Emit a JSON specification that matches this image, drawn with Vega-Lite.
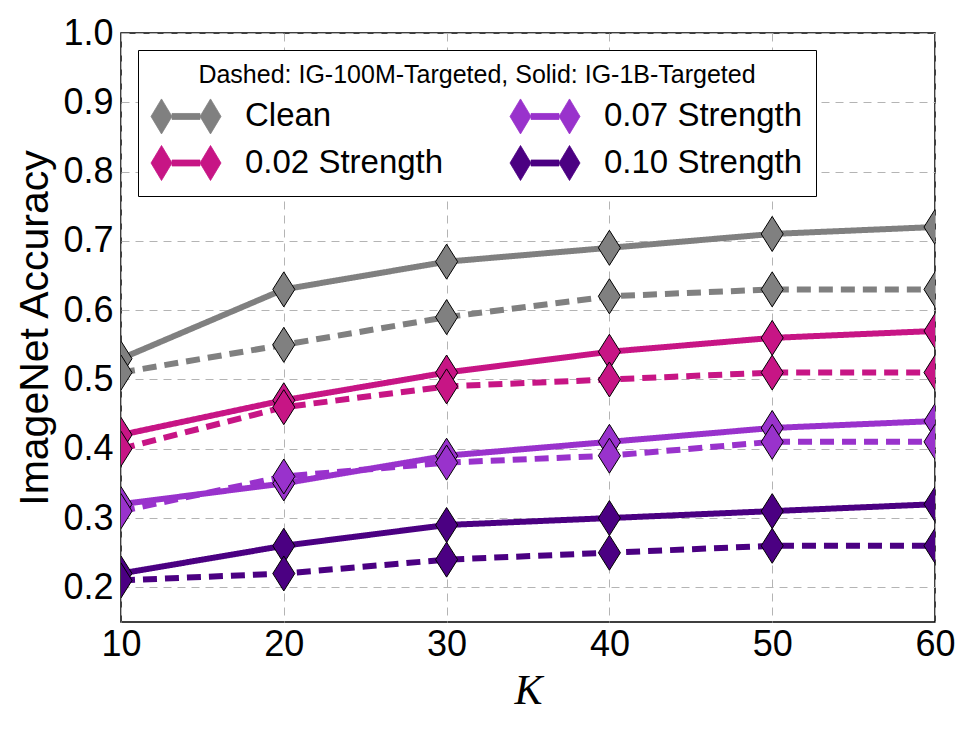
{
  "$schema": "https://vega.github.io/schema/vega-lite/v6.json",
  "width": 814,
  "height": 589,
  "autosize": {"type": "none"},
  "padding": {"left": 121, "top": 33, "right": 35, "bottom": 107},
  "background": "white",
  "config": {
    "font": "Liberation Sans",
    "view": {"stroke": "black", "strokeWidth": 1.5},
    "axis": {
      "domain": false,
      "ticks": false,
      "grid": true,
      "gridColor": "#b4b4b4",
      "gridDash": [8, 6],
      "gridWidth": 1,
      "labelFont": "Liberation Sans",
      "labelFontSize": 36,
      "labelColor": "black",
      "titleColor": "black",
      "titleFontWeight": "normal"
    }
  },
  "data": {
    "values": [
      {"K": 10, "acc": 0.53, "series": "Clean", "model": "IG-1B-Targeted"},
      {"K": 20, "acc": 0.63, "series": "Clean", "model": "IG-1B-Targeted"},
      {"K": 30, "acc": 0.67, "series": "Clean", "model": "IG-1B-Targeted"},
      {"K": 40, "acc": 0.69, "series": "Clean", "model": "IG-1B-Targeted"},
      {"K": 50, "acc": 0.71, "series": "Clean", "model": "IG-1B-Targeted"},
      {"K": 60, "acc": 0.72, "series": "Clean", "model": "IG-1B-Targeted"},
      {"K": 10, "acc": 0.51, "series": "Clean", "model": "IG-100M-Targeted"},
      {"K": 20, "acc": 0.55, "series": "Clean", "model": "IG-100M-Targeted"},
      {"K": 30, "acc": 0.59, "series": "Clean", "model": "IG-100M-Targeted"},
      {"K": 40, "acc": 0.62, "series": "Clean", "model": "IG-100M-Targeted"},
      {"K": 50, "acc": 0.63, "series": "Clean", "model": "IG-100M-Targeted"},
      {"K": 60, "acc": 0.63, "series": "Clean", "model": "IG-100M-Targeted"},
      {"K": 10, "acc": 0.42, "series": "0.02 Strength", "model": "IG-1B-Targeted"},
      {"K": 20, "acc": 0.47, "series": "0.02 Strength", "model": "IG-1B-Targeted"},
      {"K": 30, "acc": 0.51, "series": "0.02 Strength", "model": "IG-1B-Targeted"},
      {"K": 40, "acc": 0.54, "series": "0.02 Strength", "model": "IG-1B-Targeted"},
      {"K": 50, "acc": 0.56, "series": "0.02 Strength", "model": "IG-1B-Targeted"},
      {"K": 60, "acc": 0.57, "series": "0.02 Strength", "model": "IG-1B-Targeted"},
      {"K": 10, "acc": 0.40, "series": "0.02 Strength", "model": "IG-100M-Targeted"},
      {"K": 20, "acc": 0.46, "series": "0.02 Strength", "model": "IG-100M-Targeted"},
      {"K": 30, "acc": 0.49, "series": "0.02 Strength", "model": "IG-100M-Targeted"},
      {"K": 40, "acc": 0.50, "series": "0.02 Strength", "model": "IG-100M-Targeted"},
      {"K": 50, "acc": 0.51, "series": "0.02 Strength", "model": "IG-100M-Targeted"},
      {"K": 60, "acc": 0.51, "series": "0.02 Strength", "model": "IG-100M-Targeted"},
      {"K": 10, "acc": 0.32, "series": "0.07 Strength", "model": "IG-1B-Targeted"},
      {"K": 20, "acc": 0.35, "series": "0.07 Strength", "model": "IG-1B-Targeted"},
      {"K": 30, "acc": 0.39, "series": "0.07 Strength", "model": "IG-1B-Targeted"},
      {"K": 40, "acc": 0.41, "series": "0.07 Strength", "model": "IG-1B-Targeted"},
      {"K": 50, "acc": 0.43, "series": "0.07 Strength", "model": "IG-1B-Targeted"},
      {"K": 60, "acc": 0.44, "series": "0.07 Strength", "model": "IG-1B-Targeted"},
      {"K": 10, "acc": 0.31, "series": "0.07 Strength", "model": "IG-100M-Targeted"},
      {"K": 20, "acc": 0.36, "series": "0.07 Strength", "model": "IG-100M-Targeted"},
      {"K": 30, "acc": 0.38, "series": "0.07 Strength", "model": "IG-100M-Targeted"},
      {"K": 40, "acc": 0.39, "series": "0.07 Strength", "model": "IG-100M-Targeted"},
      {"K": 50, "acc": 0.41, "series": "0.07 Strength", "model": "IG-100M-Targeted"},
      {"K": 60, "acc": 0.41, "series": "0.07 Strength", "model": "IG-100M-Targeted"},
      {"K": 10, "acc": 0.22, "series": "0.10 Strength", "model": "IG-1B-Targeted"},
      {"K": 20, "acc": 0.26, "series": "0.10 Strength", "model": "IG-1B-Targeted"},
      {"K": 30, "acc": 0.29, "series": "0.10 Strength", "model": "IG-1B-Targeted"},
      {"K": 40, "acc": 0.30, "series": "0.10 Strength", "model": "IG-1B-Targeted"},
      {"K": 50, "acc": 0.31, "series": "0.10 Strength", "model": "IG-1B-Targeted"},
      {"K": 60, "acc": 0.32, "series": "0.10 Strength", "model": "IG-1B-Targeted"},
      {"K": 10, "acc": 0.21, "series": "0.10 Strength", "model": "IG-100M-Targeted"},
      {"K": 20, "acc": 0.22, "series": "0.10 Strength", "model": "IG-100M-Targeted"},
      {"K": 30, "acc": 0.24, "series": "0.10 Strength", "model": "IG-100M-Targeted"},
      {"K": 40, "acc": 0.25, "series": "0.10 Strength", "model": "IG-100M-Targeted"},
      {"K": 50, "acc": 0.26, "series": "0.10 Strength", "model": "IG-100M-Targeted"},
      {"K": 60, "acc": 0.26, "series": "0.10 Strength", "model": "IG-100M-Targeted"}
    ]
  },
  "encoding": {
    "x": {
      "field": "K",
      "type": "quantitative",
      "scale": {"domain": [10, 60], "nice": false},
      "axis": {
        "values": [10, 20, 30, 40, 50, 60],
        "title": "K",
        "titleFont": "Liberation Serif",
        "titleFontStyle": "italic",
        "titleFontSize": 42,
        "titlePadding": 8,
        "labelPadding": 5,
        "labelFlush": false
      }
    },
    "y": {
      "field": "acc",
      "type": "quantitative",
      "scale": {"domain": [0.15, 1.0], "nice": false, "zero": false},
      "axis": {
        "values": [0.2, 0.3, 0.4, 0.5, 0.6, 0.7, 0.8, 0.9, 1.0],
        "format": ".1f",
        "title": "ImageNet Accuracy",
        "titleFontSize": 41,
        "titlePadding": 6,
        "labelPadding": 8
      }
    },
    "color": {
      "field": "series",
      "type": "nominal",
      "scale": {
        "domain": ["Clean", "0.02 Strength", "0.07 Strength", "0.10 Strength"],
        "range": ["#808080", "#C71585", "#9932CC", "#4B0082"]
      },
      "legend": {
        "title": "Dashed: IG-100M-Targeted, Solid: IG-1B-Targeted",
        "orient": "top-left",
        "offset": 17,
        "columns": 2,
        "columnPadding": 64,
        "rowPadding": 7,
        "padding": 13,
        "fillColor": "white",
        "strokeColor": "black",
        "titleAnchor": "middle",
        "titleFont": "Liberation Sans",
        "titleFontSize": 25,
        "titleFontWeight": "normal",
        "titleColor": "black",
        "titlePadding": 10,
        "titleLimit": 0,
        "labelLimit": 0,
        "labelFont": "Liberation Sans",
        "labelFontSize": 33,
        "labelColor": "black",
        "labelOffset": 41,
        "symbolOffset": 17,
        "symbolSize": 1225,
        "symbolType": "M-2,0L-1.4,-1L-0.8,0L-1.4,1ZM-0.8,-0.17L0.8,-0.17L0.8,0.17L-0.8,0.17ZM0.8,0L1.4,-1L2,0L1.4,1Z",
        "symbolStrokeWidth": 0.8,
        "encode": {
          "symbols": {
            "update": {
              "fill": {"scale": "color", "field": "value"},
              "stroke": {"value": "black"},
              "strokeWidth": {"value": 0.8},
              "strokeDash": {"value": []},
              "opacity": {"value": 1},
              "fillOpacity": {"value": 1}
            }
          }
        }
      }
    }
  },
  "layer": [
    {
      "mark": {"type": "line", "strokeWidth": 6, "clip": true},
      "encoding": {
        "strokeDash": {
          "field": "model",
          "type": "nominal",
          "scale": {
            "domain": ["IG-1B-Targeted", "IG-100M-Targeted"],
            "range": [[1, 0], [14, 8]]
          },
          "legend": null
        }
      }
    },
    {
      "mark": {
        "type": "point",
        "filled": true,
        "opacity": 1,
        "clip": true,
        "shape": "M0,-1L0.63,0L0,1L-0.63,0Z",
        "size": 1225,
        "stroke": "black",
        "strokeWidth": 1
      }
    }
  ]
}
